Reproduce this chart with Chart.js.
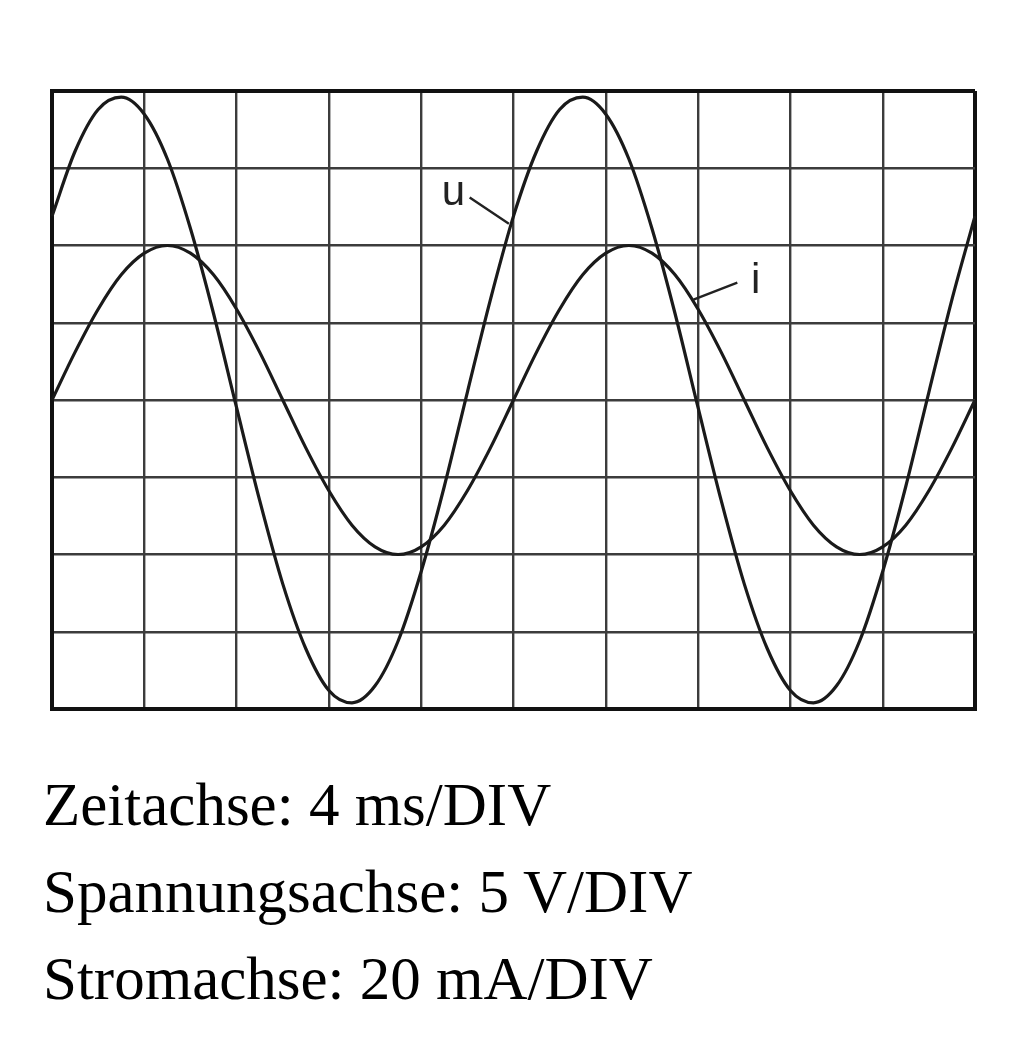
<!DOCTYPE html>
<html>
<head>
<meta charset="utf-8">
<script src="https://cdn.jsdelivr.net/npm/chart.js@4/dist/chart.umd.min.js"></script>
<style>
  html, body { margin: 0; padding: 0; background: #fff; }
  body { width: 1014px; height: 1056px; position: relative; overflow: hidden; }
  #wrap { position: absolute; left: 0; top: 0; width: 1014px; height: 740px; }
  .legende {
    position: absolute; left: 43px; top: 761px;
    font-family: 'Liberation Serif', 'Times New Roman', serif;
    font-size: 61px; line-height: 87px; color: #000; white-space: nowrap;
  }
</style>
</head>
<body>
<div id="wrap"><canvas id="scope" width="1014" height="740"></canvas></div>
<div class="legende">
  <div>Zeitachse: 4 ms/DIV</div>
  <div>Spannungsachse: 5 V/DIV</div>
  <div>Stromachse: 20 mA/DIV</div>
</div>
<script>
// time in ms, 4 ms per division, 10 divisions
const timeMs = [0, 1, 2, 3, 4, 5, 6, 7, 8, 9, 10, 11, 12, 13, 14, 15, 16, 17, 18, 19, 20,
                21, 22, 23, 24, 25, 26, 27, 28, 29, 30, 31, 32, 33, 34, 35, 36, 37, 38, 39, 40]

// voltage u in V (5 V per division)
const voltageV = [11.9, 16.1, 18.8, 19.6, 18.5, 15.6, 11.1, 5.6, -0.5, -6.5,
                  -11.9, -16.1, -18.8, -19.6, -18.5, -15.6, -11.1, -5.6, 0.5, 6.5,
                  11.9, 16.1, 18.8, 19.6, 18.5, 15.6, 11.1, 5.6, -0.5, -6.5,
                  -11.9, -16.1, -18.8, -19.6, -18.5, -15.6, -11.1, -5.6, 0.5, 6.5, 11.9]

// current i in mA (20 mA per division)
const currentMA = [0, 12.4, 23.5, 32.4, 38.0, 40, 38.0, 32.4, 23.5, 12.4,
                   0, -12.4, -23.5, -32.4, -38.0, -40, -38.0, -32.4, -23.5, -12.4,
                   0, 12.4, 23.5, 32.4, 38.0, 40, 38.0, 32.4, 23.5, 12.4,
                   0, -12.4, -23.5, -32.4, -38.0, -40, -38.0, -32.4, -23.5, -12.4, 0]

const timeTicks = [0, 4, 8, 12, 16, 20, 24, 28, 32, 36, 40]
const voltTicks = [-20, -15, -10, -5, 0, 5, 10, 15, 20]

const ink = '#1a1a1a'
const gridInk = '#3c3c3c'

// thick frame on the outer grid lines
const edgeWidth = (ctx, lo, hi) => (ctx.tick && (ctx.tick.value === lo || ctx.tick.value === hi)) ? 4 : 2.4
const edgeColor = (ctx, lo, hi) => (ctx.tick && (ctx.tick.value === lo || ctx.tick.value === hi)) ? '#111' : gridInk

// the little "u" and "i" marks with their leader lines
const curveLabels = {
  id: 'curveLabels',
  afterDatasetsDraw(chart) {
    const { ctx, scales: { x, y } } = chart
    ctx.save()
    ctx.strokeStyle = '#222'
    ctx.lineWidth = 2.4
    ctx.beginPath()
    ctx.moveTo(x.getPixelForValue(18.1), y.getPixelForValue(13.1))
    ctx.lineTo(x.getPixelForValue(19.8), y.getPixelForValue(11.4))
    ctx.moveTo(x.getPixelForValue(29.7), y.getPixelForValue(7.6))
    ctx.lineTo(x.getPixelForValue(27.8), y.getPixelForValue(6.5))
    ctx.stroke()
    ctx.fillStyle = '#222'
    ctx.font = '42px "Liberation Sans", Arial, sans-serif'
    ctx.textAlign = 'center'
    ctx.textBaseline = 'alphabetic'
    ctx.fillText('u', x.getPixelForValue(17.4), y.getPixelForValue(12.6))
    ctx.fillText('i', x.getPixelForValue(30.5), y.getPixelForValue(6.9))
    ctx.restore()
  }
}

const ctx = document.getElementById('scope').getContext('2d')

new Chart(ctx, {
  type: 'line',
  data: {
    datasets: [{
      label: 'u',
      data: timeMs.map((t, k) => ({ x: t, y: voltageV[k] })),
      yAxisID: 'y',
      borderColor: ink,
      borderWidth: 3.2,
      pointRadius: 0,
      cubicInterpolationMode: 'monotone',
      fill: false
    }, {
      label: 'i',
      data: timeMs.map((t, k) => ({ x: t, y: currentMA[k] })),
      yAxisID: 'yI',
      borderColor: ink,
      borderWidth: 3.2,
      pointRadius: 0,
      cubicInterpolationMode: 'monotone',
      fill: false
    }]
  },
  options: {
    responsive: false,
    animation: false,
    clip: false,
    layout: { padding: { left: 52, top: 91, right: 39, bottom: 31 } },
    plugins: {
      legend: { display: false },
      tooltip: { enabled: false },
      title: { display: false }
    },
    scales: {
      x: {
        type: 'linear',
        min: 0,
        max: 40,
        afterBuildTicks: scale => { scale.ticks = timeTicks.map(v => ({ value: v })) },
        ticks: { display: false },
        grid: {
          drawTicks: false,
          lineWidth: c => edgeWidth(c, 0, 40),
          color: c => edgeColor(c, 0, 40)
        },
        border: { display: true, width: 4, color: '#111' }
      },
      y: {
        type: 'linear',
        min: -20,
        max: 20,
        afterBuildTicks: scale => { scale.ticks = voltTicks.map(v => ({ value: v })) },
        ticks: { display: false },
        grid: {
          drawTicks: false,
          lineWidth: c => edgeWidth(c, -20, 20),
          color: c => edgeColor(c, -20, 20)
        },
        border: { display: true, width: 4, color: '#111' }
      },
      yI: {
        type: 'linear',
        min: -80,
        max: 80,
        display: false
      }
    }
  },
  plugins: [curveLabels]
})
</script>
</body>
</html>
